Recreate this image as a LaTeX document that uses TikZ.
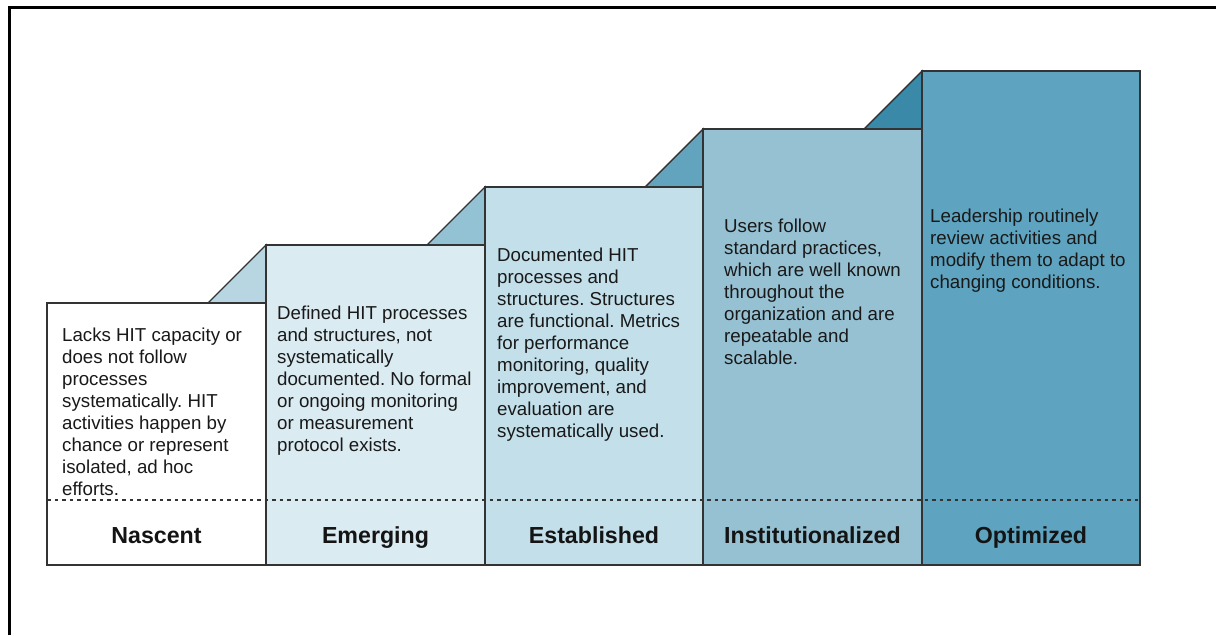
\documentclass[tikz,border=0pt]{standalone}
\usepackage{fontspec}
\setmainfont{Liberation Sans}
\frenchspacing
\definecolor{cEm}{HTML}{DAEBF2}
\definecolor{tEm}{HTML}{B7D6E2}
\definecolor{cEs}{HTML}{C2DFEA}
\definecolor{tEs}{HTML}{93C2D4}
\definecolor{cIn}{HTML}{96C1D2}
\definecolor{tIn}{HTML}{62A4BE}
\definecolor{cOp}{HTML}{5EA3BF}
\definecolor{tOp}{HTML}{3A89A8}
\definecolor{edge}{HTML}{333333}
\begin{document}
\begin{tikzpicture}[x=1pt,y=-1pt,
  colbox/.style={draw=edge,line width=1.4pt,line join=miter},
  tri/.style={draw=edge,line width=1.4pt,line join=miter},
  body/.style={anchor=base west,align=left,inner sep=0pt,font=\fontsize{18.7}{22}\selectfont\frenchspacing,text=black!90},
  lab/.style={anchor=base,inner sep=0pt,font=\fontsize{23.2}{26}\selectfont\bfseries,text=black!92},
  sep/.style={draw=edge,line width=1.2pt,dash pattern=on 3.5pt off 4pt}]
\useasboundingbox (0,0) rectangle (1216,635);
\fill[white] (0,0) rectangle (1216,635);
% frame
\draw[line width=3pt,black] (9,635) -- (9,7) -- (1216,7);
% triangles
\draw[tri,fill=tEm] (208,303) -- (266,245) -- (266,303) -- cycle;
\draw[tri,fill=tEs] (427,245) -- (485,187) -- (485,245) -- cycle;
\draw[tri,fill=tIn] (645,187) -- (703,129) -- (703,187) -- cycle;
\draw[tri,fill=tOp] (864,129) -- (922,71) -- (922,129) -- cycle;
% columns
\draw[colbox,fill=white] (47,303) rectangle (266,565);
\draw[colbox,fill=cEm] (266,245) rectangle (485,565);
\draw[colbox,fill=cEs] (485,187) rectangle (703,565);
\draw[colbox,fill=cIn] (703,129) rectangle (922,565);
\draw[colbox,fill=cOp] (922,71) rectangle (1140,565);
% dashed separator
\coordinate (dl) at (47,500);
\coordinate (dr) at (1140,500);
\draw[sep] (dl) -- (dr);
% texts (anchor = baseline of last line)
\node[body] (tna) at (62,495) {Lacks HIT capacity or\\does not follow\\processes\\systematically. HIT\\activities happen by\\chance or represent\\isolated, ad hoc\\efforts.};
\node[body] (tem) at (277,451) {Defined HIT processes\\and structures, not\\systematically\\documented. No formal\\or ongoing monitoring\\or measurement\\protocol exists.};
\node[body] (tes) at (497,437) {Documented HIT\\processes and\\structures. Structures\\are functional. Metrics\\for performance\\monitoring, quality\\improvement, and\\evaluation are\\systematically used.};
\node[body] (tin) at (724,364) {Users follow\\standard practices,\\which are well known\\throughout the\\organization and are\\repeatable and\\scalable.};
\node[body] (top) at (930,288) {Leadership routinely\\review activities and\\modify them to adapt to\\changing conditions.};
% labels
\node[lab] (lna) at (156.5,543.5) {Nascent};
\node[lab] (lem) at (375.5,543.5) {Emerging};
\node[lab] (les) at (594,543.5) {Established};
\node[lab] (lin) at (812.5,543.5) {Institutionalized};
\node[lab] (lop) at (1031,543.5) {Optimized};
\end{tikzpicture}
\end{document}
